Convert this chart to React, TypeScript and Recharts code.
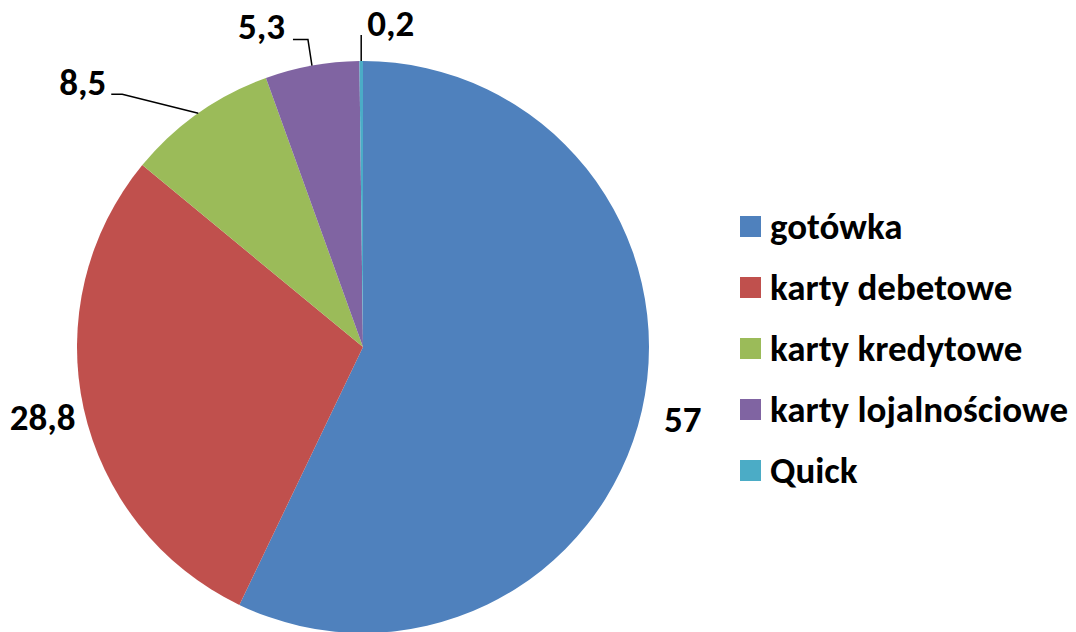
import React from "react";
import { PieChart, Pie, Cell, Legend } from "recharts";

const categories = ["gotówka", "karty debetowe", "karty kredytowe", "karty lojalnościowe", "Quick"];
const values = [57, 28.8, 8.5, 5.3, 0.2];
const colors = ["#4F81BD", "#C0504D", "#9BBB59", "#8064A2", "#4BACC6"];

const data = categories.map((name, i) => ({ name, value: values[i] }));

const FONT = "Carlito, Lato, 'Open Sans', sans-serif";
const FONT_SIZE = 37;
const RADIAN = Math.PI / 180;

// leader-line layout for small slices: elbow & end offsets relative to arc point
const leader: Record<number, { elbow: [number, number]; end: [number, number]; text: [number, number]; anchor: "start" | "end" }> = {
  2: { elbow: [-76, -19], end: [-87, -19], text: [-92, -18], anchor: "end" },
  3: { elbow: [-4, -26], end: [-19, -26], text: [-27, -27], anchor: "end" },
  4: { elbow: [0, -26], end: [0, -26], text: [6, -25], anchor: "start" },
};

const fmt = (v: number) => String(v).replace(".", ",");

const renderLabel = (props: any) => {
  const { cx, cy, midAngle, outerRadius, index, value } = props;
  const cos = Math.cos(-midAngle * RADIAN);
  const sin = Math.sin(-midAngle * RADIAN);
  const l = leader[index];
  if (!l) {
    const r = outerRadius + 42;
    return (
      <text
        key={`lbl-${index}`}
        x={cx + r * cos}
        y={cy + r * sin}
        textAnchor="middle"
        dominantBaseline="central"
        fontFamily={FONT}
        fontWeight="bold"
        fontSize={FONT_SIZE}
        fill="#000"
      >
        {fmt(value)}
      </text>
    );
  }
  const ax = cx + outerRadius * cos;
  const ay = cy + outerRadius * sin;
  const pts = [
    [ax, ay],
    [ax + l.elbow[0], ay + l.elbow[1]],
    [ax + l.end[0], ay + l.end[1]],
  ];
  return (
    <g key={`lbl-${index}`}>
      <polyline points={pts.map((p) => p.join(",")).join(" ")} fill="none" stroke="#000" strokeWidth={1.5} />
      <text
        x={ax + l.text[0]}
        y={ay + l.text[1]}
        textAnchor={l.anchor}
        fontFamily={FONT}
        fontWeight="bold"
        fontSize={FONT_SIZE}
        fill="#000"
      >
        {fmt(value)}
      </text>
    </g>
  );
};

const renderLegend = () => (
  <div style={{ fontFamily: FONT, fontWeight: "bold", fontSize: FONT_SIZE, color: "#000" }}>
    {categories.map((c, i) => (
      <div key={c} style={{ display: "flex", alignItems: "center", height: 61, whiteSpace: "nowrap" }}>
        <span style={{ display: "inline-block", flex: "none", width: 21, height: 21, background: colors[i], marginRight: 9 }} />
        <span>{c}</span>
      </div>
    ))}
  </div>
);

export default function App() {
  return (
    <div style={{ position: "absolute", left: 0, top: 0, width: 1076, height: 632, background: "#fff", overflow: "hidden" }}>
      <PieChart width={1076} height={632} margin={{ top: 0, right: 0, bottom: 0, left: 0 }}>
        <Pie
          data={data}
          dataKey="value"
          nameKey="name"
          cx={363}
          cy={347}
          outerRadius={286}
          startAngle={90}
          endAngle={-270}
          stroke="none"
          label={renderLabel}
          labelLine={false}
          isAnimationActive={false}
        >
          {data.map((d, i) => (
            <Cell key={d.name} fill={colors[i]} />
          ))}
        </Pie>
        <Legend
          content={renderLegend}
          wrapperStyle={{ position: "absolute", left: 740, top: 196, width: 336 }}
        />
      </PieChart>
    </div>
  );
}
